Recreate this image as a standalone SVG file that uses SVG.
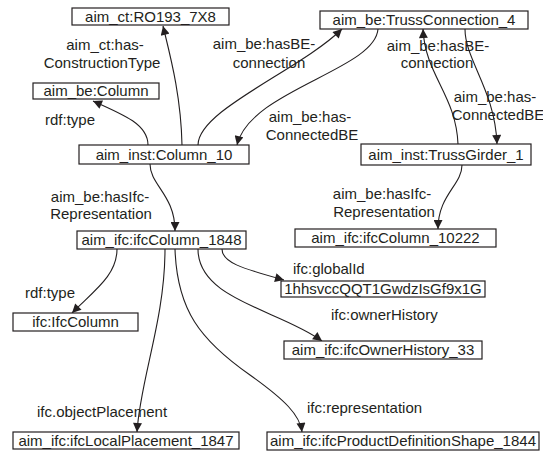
<svg xmlns="http://www.w3.org/2000/svg" width="543" height="451" viewBox="0 0 543 451">
<defs>
<style>
text{font-family:"Liberation Sans",Arial,sans-serif;font-size:15px;fill:#231f20}
.node rect{fill:#fff;stroke:#231f20;stroke-width:1.2}
.node text{text-anchor:middle}
.lbl{text-anchor:middle}
.lbs{text-anchor:start}
#edges path{fill:none;stroke:#231f20;stroke-width:1.1;marker-end:url(#arr)}
</style>
<marker id="arr" viewBox="0 0 10 10" refX="10" refY="5" markerWidth="10" markerHeight="9" markerUnits="userSpaceOnUse" orient="auto"><path d="M0,0 L10,5 L0,10 z" fill="#231f20"/></marker>
</defs>
<rect width="543" height="451" fill="#fff"/>
<g id="edges">
<path d="M182,145 C181,95 170,55 163,26"/>
<path d="M148,145 C148,125 125,115 93,101"/>
<path d="M198,145 C198,110 300,70 342,29"/>
<path d="M378,29 C375,70 250,90 237,145"/>
<path d="M458,144 C456,95 425,75 423,29"/>
<path d="M465,29 C465,60 495,90 497,144"/>
<path d="M150,164 C150,185 175,195 175,231"/>
<path d="M462,165 C462,185 438,195 438,229"/>
<path d="M222,249 C222,262 240,268 284,280"/>
<path d="M117,249 C117,275 95,290 72,313"/>
<path d="M165,249 C165,320 140,380 137,432"/>
<path d="M175,249 C177,310 200,340 250,375 C285,400 300,415 302,432"/>
<path d="M198,249 C198,300 280,310 322,341"/>
</g>
<g id="labels">
<text class="lbl" x="105" y="50">aim_ct:has-</text>
<text class="lbl" x="102" y="68">ConstructionType</text>
<text class="lbl" x="264" y="49">aim_be:hasBE-</text>
<text class="lbl" x="269" y="68">connection</text>
<text class="lbl" x="70" y="125">rdf:type</text>
<text class="lbl" x="310" y="122">aim_be:has-</text>
<text class="lbl" x="312" y="140">ConnectedBE</text>
<text class="lbl" x="438" y="51">aim_be:hasBE-</text>
<text class="lbl" x="437" y="68">connection</text>
<text class="lbl" x="495" y="102">aim_be:has-</text>
<text class="lbl" x="498" y="120">ConnectedBE</text>
<text class="lbl" x="100" y="202">aim_be:hasIfc-</text>
<text class="lbl" x="101" y="219">Representation</text>
<text class="lbl" x="382" y="199">aim_be:hasIfc-</text>
<text class="lbl" x="384" y="217">Representation</text>
<text class="lbs" x="293" y="274">ifc:globalId</text>
<text class="lbs" x="25" y="298">rdf:type</text>
<text class="lbs" x="331" y="320">ifc:ownerHistory</text>
<text class="lbs" x="37" y="417">ifc.objectPlacement</text>
<text class="lbs" x="307" y="413">ifc:representation</text>
</g>
<g id="n_ro193" class="node"><rect x="72" y="8" width="157" height="17"/><text x="150.5" y="21.5">aim_ct:RO193_7X8</text></g>
<g id="n_truss_conn" class="node"><rect x="320" y="11" width="208" height="18"/><text x="424" y="24.5">aim_be:TrussConnection_4</text></g>
<g id="n_be_column" class="node"><rect x="33" y="83" width="126" height="16"/><text x="96" y="96">aim_be:Column</text></g>
<g id="n_column10" class="node"><rect x="79" y="145" width="170" height="19"/><text x="164" y="159.5">aim_inst:Column_10</text></g>
<g id="n_girder" class="node"><rect x="361" y="144" width="170" height="21"/><text x="446" y="159.5">aim_inst:TrussGirder_1</text></g>
<g id="n_ifc1848" class="node"><rect x="77" y="231" width="169" height="18"/><text x="161.5" y="245">aim_ifc:ifcColumn_1848</text></g>
<g id="n_ifc10222" class="node"><rect x="295" y="229" width="201" height="18"/><text x="395.5" y="243">aim_ifc:ifcColumn_10222</text></g>
<g id="n_guid" class="node"><rect x="281" y="281" width="204" height="16"/><text x="383" y="294">1hhsvccQQT1GwdzIsGf9x1G</text></g>
<g id="n_ifccolumn" class="node"><rect x="13" y="313" width="125" height="18"/><text x="75.5" y="327">ifc:IfcColumn</text></g>
<g id="n_owner" class="node"><rect x="284" y="341" width="198" height="18"/><text x="383" y="355">aim_ifc:ifcOwnerHistory_33</text></g>
<g id="n_placement" class="node"><rect x="13" y="432" width="226" height="17"/><text x="126" y="446">aim_ifc:ifcLocalPlacement_1847</text></g>
<g id="n_shape" class="node"><rect x="267" y="432" width="272" height="18"/><text x="403" y="446">aim_ifc:ifcProductDefinitionShape_1844</text></g>
</svg>
